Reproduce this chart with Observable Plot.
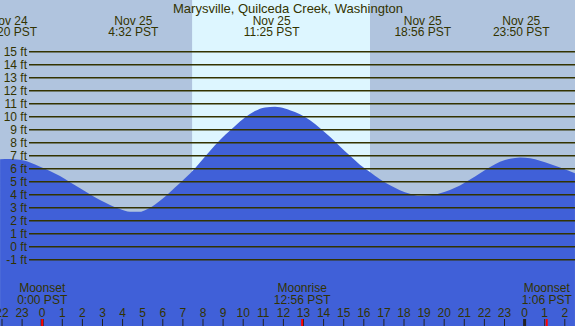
<!DOCTYPE html>
<html><head><meta charset="utf-8">
<script src="https://cdn.jsdelivr.net/npm/d3@7"></script>
<script src="https://cdn.jsdelivr.net/npm/@observablehq/plot@0.6"></script>
<style>html,body{margin:0;padding:0;background:#b0c4de;} #chart svg{display:block}</style>
</head><body><div id="chart"></div>
<script>
// ---- data ----
const title = "Marysville, Quilceda Creek, Washington";
// hours relative to Nov 25 00:00 PST
const tideHours = [-2.07, -1.58, -1.08, -0.58, -0.08, 0.41, 0.91, 1.41, 1.91, 2.40, 2.90, 3.40, 3.90, 4.39, 4.89, 5.14, 5.64, 6.13, 6.63, 7.13, 7.63, 8.12, 8.62, 9.12, 9.62, 10.11, 10.61, 11.11, 11.61, 12.10, 12.35, 12.85, 13.35, 13.85, 14.34, 14.84, 15.34, 15.83, 16.33, 16.83, 17.33, 17.82, 18.32, 18.82, 19.32, 19.82, 20.31, 20.81, 21.31, 21.81, 22.31, 22.80, 23.30, 23.80, 24.30, 24.79, 25.29, 25.79, 26.53];
const tideFeet  = [6.69, 6.71, 6.66, 6.45, 6.12, 5.80, 5.40, 4.93, 4.46, 4.00, 3.56, 3.18, 2.86, 2.65, 2.66, 2.78, 3.22, 3.82, 4.52, 5.23, 6.00, 6.88, 7.78, 8.56, 9.25, 9.90, 10.40, 10.68, 10.73, 10.60, 10.46, 10.15, 9.70, 9.08, 8.42, 7.68, 6.96, 6.28, 5.72, 5.16, 4.70, 4.32, 4.05, 3.89, 3.92, 4.08, 4.34, 4.68, 5.13, 5.62, 6.10, 6.50, 6.73, 6.83, 6.78, 6.58, 6.33, 6.06, 5.62];
const levelFeet = [-1, 0, 1, 2, 3, 4, 5, 6, 7, 8, 9, 10, 11, 12, 13, 14, 15];
const eventHours = [-1.667, 4.533, 11.417, 18.933, 23.833];
const eventLabels = ["Nov 24\n22:20 PST", "Nov 25\n4:32 PST", "Nov 25\n11:25 PST", "Nov 25\n18:56 PST", "Nov 25\n23:50 PST"];
const moonHours = [0, 12.933, 25.1];
const moonLabels = ["Moonset\n0:00 PST", "Moonrise\n12:56 PST", "Moonset\n1:06 PST"];
const hourTicks = [-2, -1, 0, 1, 2, 3, 4, 5, 6, 7, 8, 9, 10, 11, 12, 13, 14, 15, 16, 17, 18, 19, 20, 21, 22, 23, 24, 25, 26];
const hourLabels = ["22", "23", "0", "1", "2", "3", "4", "5", "6", "7", "8", "9", "10", "11", "12", "13", "14", "15", "16", "17", "18", "19", "20", "21", "22", "23", "0", "1", "2"];
const midnightHours = [0, 24];
const sunrise = 7.483, sunset = 16.333;

// ---- layout ----
const W = 575, H = 326;
const x0 = 41.7, pxPerHour = 20.1, y0 = 246.3, pxPerFoot = 13;
const xDomain = [(0 - x0) / pxPerHour, (W - x0) / pxPerHour];
const yDomain = [(y0 - H) / pxPerFoot, y0 / pxPerFoot];
const ftAtPx = py => (y0 - py) / pxPerFoot;
const hAtPx = px => (px - x0) / pxPerHour;

const NIGHT = "#b0c4de", DAY = "#ddf6ff", WATER = "#4060d8", INK = "#333300";

const tide = tideHours.map((h, i) => ({h, ft: tideFeet[i]}));
const events = eventHours.map((h, i) => ({h, label: eventLabels[i]}));
const moons = moonHours.map((h, i) => ({h, label: moonLabels[i]}));
const hours = hourTicks.map((h, i) => ({h, label: hourLabels[i]}));

const chart = Plot.plot({
  width: W, height: H,
  margin: 0,
  x: {domain: xDomain, axis: null},
  y: {domain: yDomain, axis: null},
  style: {fontFamily: "'Liberation Sans', Arial, sans-serif", fontSize: "12px", color: INK, background: NIGHT},
  marks: [
    Plot.rect([{a: xDomain[0], b: sunrise}], {x1: "a", x2: "b", y1: () => yDomain[0], y2: () => yDomain[1], fill: NIGHT}),
    Plot.rect([{a: sunrise, b: sunset}], {x1: "a", x2: "b", y1: () => yDomain[0], y2: () => yDomain[1], fill: DAY}),
    Plot.rect([{a: sunset, b: xDomain[1]}], {x1: "a", x2: "b", y1: () => yDomain[0], y2: () => yDomain[1], fill: NIGHT}),
    Plot.area(tide, {x1: "h", y1: () => yDomain[0], y2: "ft", fill: WATER, curve: "monotone-x"}),
    Plot.ruleY(levelFeet, {y: d => d, x1: () => hAtPx(29), x2: () => xDomain[1], stroke: INK, strokeWidth: 1.5}),
    Plot.text(levelFeet, {x: () => hAtPx(26.5), y: d => d, text: d => `${d} ft`, textAnchor: "end", fontSize: 12, fill: INK}),
    Plot.text([title], {text: d => d, frameAnchor: "top", lineAnchor: "top", dy: 2.8, fontSize: 13, fill: INK}),
    Plot.text(events, {x: "h", text: "label", frameAnchor: "top", lineAnchor: "top", dy: 16, lineHeight: 11.5 / 12, fontSize: 12, fill: INK}),
    Plot.text(moons, {x: "h", text: "label", frameAnchor: "top", lineAnchor: "top", dy: 282.5, lineHeight: 12.5 / 12, fontSize: 12, fill: INK}),
    Plot.text(hours, {x: "h", text: "label", frameAnchor: "top", lineAnchor: "top", dy: 307.5, fontSize: 12, fill: INK}),
    Plot.ruleX(hours, {x: "h", y1: () => ftAtPx(H), y2: () => ftAtPx(319), stroke: "#222", strokeWidth: 1}),
    Plot.ruleX(midnightHours, {x: d => d, y1: () => ftAtPx(H), y2: () => ftAtPx(319), stroke: "#222", strokeWidth: 3}),
    Plot.ruleX(moonHours, {x: d => d, y1: () => ftAtPx(H), y2: () => ftAtPx(319), stroke: "#ff0000", strokeWidth: 2})
  ]
});
document.getElementById("chart").appendChild(chart);
</script>
</body></html>
